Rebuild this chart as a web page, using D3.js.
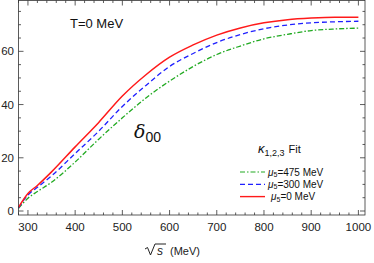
<!DOCTYPE html>
<html>
<head>
<meta charset="utf-8">
<script src="https://cdn.jsdelivr.net/npm/d3@7"></script>
<style>
  body { margin: 0; background: #fff; }
  svg { display: block; font-family: "Liberation Sans", Arial, sans-serif; }
</style>
</head>
<body>
<svg id="chart" width="374" height="263"></svg>
<script>
// sqrt(s) in MeV
const sqrtS = [280, 300, 320, 350, 400, 450, 500, 550, 600, 650, 700, 750, 800, 850, 900, 950, 1000];
// phase shift delta_00 (degrees) for each mu5
const mu0   = [1.4, 6.6, 9.6, 14.7, 24.1, 33.3, 43.2, 51.2, 57.8, 62.4, 66.1, 68.8, 70.7, 71.9, 72.5, 72.8, 72.8];
const mu300 = [1.2, 6.0, 8.9, 13.2, 21.6, 30.0, 39.3, 47.2, 54.3, 59.2, 63.3, 66.3, 68.5, 69.9, 70.7, 71.1, 71.3];
const mu475 = [1.0, 4.8, 7.3, 10.8, 18.4, 27.0, 35.0, 42.5, 48.8, 54.3, 58.8, 62.0, 64.7, 66.4, 67.8, 68.4, 68.7];
const xTicks = [300, 400, 500, 600, 700, 800, 900, 1000];
const yTicks = [0, 20, 40, 60];

const series = [
  { label: "475 MeV", values: mu475, color: "#22aa22", dash: "5,2,1.5,2" },
  { label: "300 MeV", values: mu300, color: "#1f1fff", dash: "5,3" },
  { label: "0 MeV",   values: mu0,   color: "#ff1a1a", dash: null }
];

const svg = d3.select("#chart");
const mLeft = 18.5, mRight = 365, mTop = 0.5, mBottom = 215;

const x = d3.scaleLinear().domain([280, 1014]).range([mLeft, mRight]);
const y = d3.scaleLinear().domain([-1.5, 79.1]).range([mBottom, mTop]);

const line = d3.line().x((d, i) => x(sqrtS[i])).y(d => y(d)).curve(d3.curveMonotoneX);

// curves
const plot = svg.append("g");
series.forEach(s => {
  plot.append("path")
    .datum(s.values)
    .attr("fill", "none")
    .attr("stroke", s.color)
    .attr("stroke-width", s.dash ? 1.3 : 1.5)
    .attr("stroke-dasharray", s.dash)
    .attr("d", line);
});

// frame with ticks on all sides
const axisColor = "#333";
const minorX = d3.range(280, 1014, 20);
const minorY = d3.range(0, 79, 5);
const fr = svg.append("g").attr("stroke", axisColor).attr("stroke-width", 0.8);
fr.append("rect").attr("x", mLeft).attr("y", mTop).attr("width", mRight - mLeft).attr("height", mBottom - mTop).attr("fill", "none");
minorX.forEach(v => {
  const len = xTicks.includes(v) ? 5 : 2.5;
  fr.append("line").attr("x1", x(v)).attr("x2", x(v)).attr("y1", mBottom).attr("y2", mBottom - len);
  fr.append("line").attr("x1", x(v)).attr("x2", x(v)).attr("y1", mTop).attr("y2", mTop + len);
});
minorY.forEach(v => {
  const len = yTicks.includes(v) ? 5 : 2.5;
  fr.append("line").attr("y1", y(v)).attr("y2", y(v)).attr("x1", mLeft).attr("x2", mLeft + len);
  fr.append("line").attr("y1", y(v)).attr("y2", y(v)).attr("x1", mRight).attr("x2", mRight - len);
});

// tick labels
svg.append("g").selectAll("text").data(xTicks).join("text")
  .attr("x", d => x(d)).attr("y", 231)
  .attr("text-anchor", "middle").attr("font-size", 11.5).attr("fill", "#222")
  .text(d => d);
svg.append("g").selectAll("text").data(yTicks).join("text")
  .attr("x", 14).attr("y", d => y(d) + 4)
  .attr("text-anchor", "end").attr("font-size", 11.5).attr("fill", "#222")
  .text(d => d);

// axis title: sqrt(s) (MeV)
const xt = svg.append("g").attr("transform", "translate(0,255)");
xt.append("path")
  .attr("d", "M145,-6 L147.5,-7.5 L150.5,0 L155,-11 L166,-11")
  .attr("fill", "none").attr("stroke", "#222").attr("stroke-width", 1);
xt.append("text").attr("x", 157).attr("y", 0).attr("font-size", 12).attr("font-style", "italic").attr("fill", "#222").text("s");
xt.append("text").attr("x", 170).attr("y", 0).attr("font-size", 11).attr("fill", "#222").text("(MeV)");

// annotations
svg.append("text").attr("x", 70).attr("y", 28).attr("font-size", 13).attr("fill", "#111").text("T=0 MeV");
const dl = svg.append("text").attr("x", 134).attr("y", 138).attr("fill", "#111");
dl.append("tspan").attr("font-size", 19).attr("font-style", "italic").attr("font-family", "DejaVu Serif, serif").text("δ");
dl.append("tspan").attr("font-size", 14).attr("dy", 4).text("00");

const kt = svg.append("text").attr("x", 258).attr("y", 153).attr("fill", "#111");
kt.append("tspan").attr("font-size", 13).attr("font-style", "italic").text("κ");
kt.append("tspan").attr("font-size", 9).attr("dy", 3).text("1,2,3");
kt.append("tspan").attr("font-size", 11).attr("dy", -3).attr("dx", 4).text("Fit");

// legend
const lg = svg.append("g");
series.forEach((s, i) => {
  const yy = 172 + i * 12.3;
  lg.append("line").attr("x1", 240).attr("x2", 265).attr("y1", yy).attr("y2", yy)
    .attr("stroke", s.color).attr("stroke-width", s.dash ? 1.2 : 1.4).attr("stroke-dasharray", s.dash);
  const t = lg.append("text").attr("x", s.dash ? 268 : 271).attr("y", yy + 3.5).attr("font-size", 10).attr("fill", "#111");
  t.append("tspan").attr("font-style", "italic").text("μ");
  t.append("tspan").attr("font-size", 7).attr("dy", 1.5).text("5");
  t.append("tspan").attr("dy", -1.5).text("=" + s.label);
});
</script>
</body>
</html>
